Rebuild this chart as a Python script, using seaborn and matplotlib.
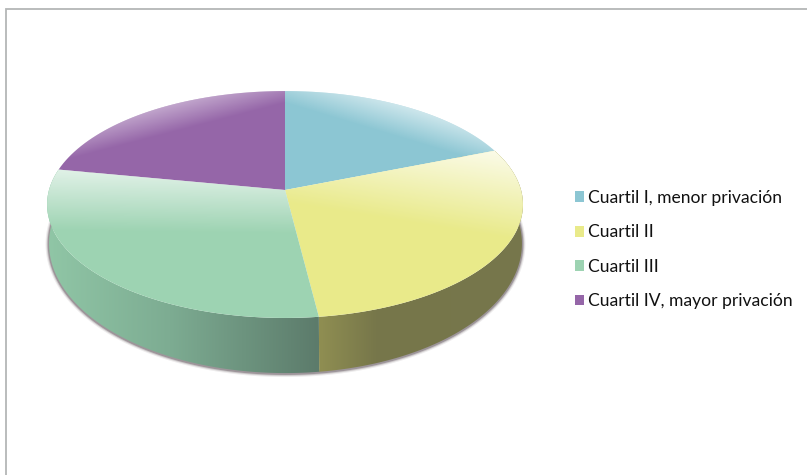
import numpy as np
import pandas as pd
import seaborn as sns
import matplotlib
matplotlib.use("Agg")
import matplotlib.pyplot as plt
from matplotlib.path import Path
from matplotlib.patches import Polygon
from matplotlib.transforms import Transform
from matplotlib.colors import to_rgb

# ---- data ----
categories = ["Cuartil I, menor privación", "Cuartil II", "Cuartil III", "Cuartil IV, mayor privación"]
values = [19, 29, 30, 22]
colors = ["#8cc6d3", "#e9ea8a", "#9dd3b2", "#9566a8"]

df = pd.DataFrame({"cuartil": categories, "valor": values})

W, H = 807, 475
sns.set_theme(style="white")
plt.rcParams["font.family"] = ["Lato", "DejaVu Sans"]
palette = sns.color_palette(colors)


class DiskProjection(Transform):
    """Perspective view of the unit disk, in pixel coordinates."""
    input_dims = output_dims = 2
    has_inverse = False
    is_separable = False

    def __init__(self, cx, cy, a, b, p):
        super().__init__()
        self.cx, self.cy, self.a, self.b, self.p = cx, cy, a, b, p

    def transform_non_affine(self, xy):
        xy = np.asarray(xy, float)
        d = 1 + self.p * xy[:, 1]
        return np.column_stack([self.cx + self.a * xy[:, 0] / d,
                                self.cy - self.b * xy[:, 1] / d])

    def transform_path_non_affine(self, path):
        ts = np.linspace(0, 1, 24)
        pts = [curve(ts) for curve, code in path.iter_bezier() if code != Path.MOVETO]
        return Path(self.transform_non_affine(np.vstack(pts)), closed=False)


top = DiskProjection(285, 190, 236, 111.6, 0.1278)
bottom = DiskProjection(285.5, 227, 234.5, 127.4, 0.1278)

fig = plt.figure(figsize=(W / 100, H / 100), dpi=100)
ax = fig.add_axes([0, 0, 1, 1])

wedges, _ = ax.pie(df["valor"], colors=palette, startangle=90, counterclock=False,
                   wedgeprops=dict(linewidth=0, zorder=3))
ax.set_aspect("auto")
ax.set_frame_on(False)
ax.set_xlim(0, W)
ax.set_ylim(H, 0)

for w in wedges:
    w.set_transform(top + ax.transData)

# ---- pixel grid used by shading ----
X, Y = np.meshgrid(np.arange(W) + 0.5, np.arange(H) + 0.5)


def overlay(alpha, clip, z):
    img = np.ones((H, W, 4))
    img[..., 3] = np.clip(alpha, 0, 1)
    im = ax.imshow(img, extent=(0, W, H, 0), aspect="auto", zorder=z, interpolation="bilinear")
    im.set_clip_path(clip)


# light fading from the back rim of the top face
line_q1 = 103 + (X - 285) * 0.30
line_q4 = 103 + (285 - X) * 0.26
line_q2 = 205 + (X - 300) * 0.16
line_q3 = 231 + (X - 60) * 0.012
overlay(0.42 * (line_q1 - Y) / 24, wedges[0], 4)
overlay(0.76 * (line_q2 - Y) / 80, wedges[1], 4)
overlay(0.68 * (line_q3 - Y) / 60, wedges[2], 4)
overlay(0.36 * (line_q4 - Y) / 24, wedges[3], 4)

# ---- side wall, built from the wedge angles ----
wall_shades = {1: (("#908f52", 318), ("#76764a", 378), ("#77774c", 524)),
               2: (("#90c6a6", 48), ("#7dac92", 170), ("#5c7b6b", 318))}

circle = np.linspace(0, 2 * np.pi, 361)
rim = bottom.transform_non_affine(np.column_stack([np.cos(circle), np.sin(circle)]))
for lw, al in [(5.0, 0.12), (3.4, 0.25), (2.0, 0.5)]:
    ax.add_patch(Polygon(rim + [0, 0.5], closed=True, facecolor="none", zorder=1,
                         edgecolor="#6f636a", alpha=al, linewidth=lw))

for i, stops in wall_shades.items():
    w = wedges[i]
    th = np.radians(np.linspace(w.theta1, w.theta2, 120))
    unit = np.column_stack([np.cos(th), np.sin(th)])
    poly = np.vstack([top.transform_non_affine(unit), bottom.transform_non_affine(unit)[::-1]])
    patch = Polygon(poly, closed=True, facecolor="none", edgecolor="none", zorder=2)
    ax.add_patch(patch)
    xs = [s[1] for s in stops]
    rgb = np.array([to_rgb(s[0]) for s in stops])
    grad = np.stack([np.interp(np.arange(W) + 0.5, xs, rgb[:, c]) for c in range(3)], axis=-1)
    im = ax.imshow(np.tile(grad[None, :, :], (H, 1, 1)), extent=(0, W, H, 0),
                   aspect="auto", zorder=2, interpolation="bilinear")
    im.set_clip_path(patch)

ax.set_xlim(0, W)
ax.set_ylim(H, 0)

# ---- outer frame ----
ax.plot([6, 6, W], [H, 8.5, 8.5], color="#b4b6b6", linewidth=1.3, zorder=1,
        solid_joinstyle="miter", clip_on=False)

# ---- legend ----
leg = ax.legend(wedges, df["cuartil"], loc="upper left",
                bbox_to_anchor=(574.5 / W, 1 - 190 / H), frameon=False,
                fontsize=12.6, labelcolor="#111111",
                handlelength=0.56, handleheight=0.56, handletextpad=0.22,
                labelspacing=1.05, borderpad=0, borderaxespad=0)

fig.savefig("out.png", dpi=100, facecolor="white")
